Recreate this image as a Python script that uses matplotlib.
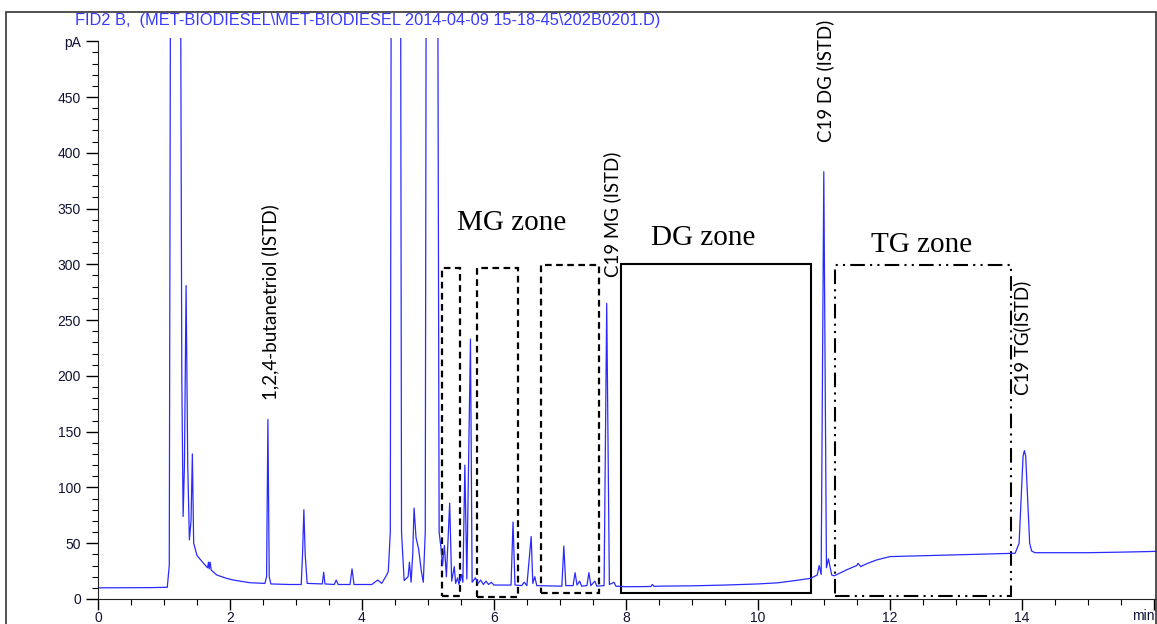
import matplotlib.pyplot as plt
from matplotlib.patches import Rectangle
from matplotlib.ticker import MultipleLocator, FixedLocator

# chromatogram trace, vertices (time in min, signal in pA)
time_min = [0.00, 0.80, 1.05, 1.08, 1.10, 1.16, 1.24, 1.27, 1.29, 1.31, 1.335, 1.36,
            1.385, 1.41, 1.43, 1.45, 1.50, 1.60, 1.66, 1.675, 1.685, 1.70, 1.715,
            1.80, 1.95, 2.05, 2.30, 2.53, 2.555, 2.575, 2.595, 2.62, 2.90, 3.08,
            3.10, 3.12, 3.14, 3.17, 3.40, 3.42, 3.44, 3.58, 3.61, 3.64, 3.82, 3.85,
            3.88, 4.15, 4.24, 4.30, 4.38, 4.40, 4.43, 4.45, 4.52, 4.58, 4.60, 4.64,
            4.70, 4.72, 4.745, 4.77, 4.79, 4.82, 4.86, 4.90, 4.93, 4.96, 4.98, 5.06,
            5.14, 5.17, 5.20, 5.22, 5.25, 5.28, 5.33, 5.36, 5.40, 5.42, 5.45, 5.47,
            5.51, 5.53, 5.56, 5.59, 5.645, 5.67, 5.72, 5.76, 5.80, 5.84, 5.88, 5.92,
            5.96, 6.00, 6.26, 6.29, 6.32, 6.42, 6.46, 6.50, 6.565, 6.59, 6.62, 6.65,
            7.03, 7.06, 7.09, 7.20, 7.23, 7.26, 7.30, 7.33, 7.41, 7.44, 7.47, 7.53,
            7.56, 7.67, 7.71, 7.75, 7.82, 7.85, 8.00, 8.38, 8.40, 8.43, 8.50, 9.00,
            9.50, 10.00, 10.30, 10.50, 10.80, 10.90, 10.93, 10.96, 11.00, 11.04,
            11.07, 11.12, 11.16, 11.34, 11.50, 11.52, 11.56, 11.64, 11.80, 12.00,
            12.86, 13.50, 13.90, 13.96, 13.99, 14.02, 14.04, 14.06, 14.09, 14.12,
            14.15, 14.20, 15.00, 15.50, 16.05]
signal_pa = [10.0, 10.2, 10.5, 30, 600, 1500, 800, 200, 74, 120, 281, 120,
             53, 70, 130, 50, 39, 32, 28, 33, 27, 33, 26,
             21.5, 18.5, 17, 14.6, 14, 20, 161, 20, 13.5, 13, 13,
             40, 80, 40, 14, 13.5, 24, 13.5, 13, 17, 13, 13, 27,
             13, 13, 17, 14, 22, 25, 60, 800, 2000, 800, 60, 16.5,
             20, 33, 15, 40, 81.5, 55, 44.5, 25, 15, 60, 800, 2000,
             800, 60, 45, 30, 48, 20, 86, 16, 29, 14, 19, 13,
             22, 15, 120, 18, 233, 15, 19, 14, 17, 13, 16, 13,
             15, 12.5, 12.5, 69, 12.5, 12, 15, 12, 56, 14, 20, 12,
             11.5, 47.5, 12, 12, 23.6, 12.5, 16, 11.5, 12, 23.6, 12, 16,
             11.5, 12, 265, 13, 15, 11.5, 11, 11.2, 13, 11.3, 11.5, 11.8,
             12.5, 13.5, 14.5, 16, 18.5, 21.5, 30, 22, 383, 28,
             36, 21.5, 20.8, 26, 30, 32, 29, 31.4, 35, 38,
             39.4, 40.5, 41, 50, 90, 128, 133, 128, 90, 50,
             43, 41.5, 41.5, 42, 42.7]

y_ticks = [0, 50, 100, 150, 200, 250, 300, 350, 400, 450, 500]
y_labels = ['0', '50', '100', '150', '200', '250', '300', '350', '400', '450', 'pA']
x_ticks = [0, 2, 4, 6, 8, 10, 12, 14, 16]
x_labels = ['0', '2', '4', '6', '8', '10', '12', '14', '']

title = 'FID2 B,  (MET-BIODIESEL\\MET-BIODIESEL 2014-04-09 15-18-45\\202B0201.D)'

fig = plt.figure(figsize=(11.57, 6.24), dpi=100)
ax = fig.add_axes([98 / 1157, 25 / 624, 1 - 98 / 1157, 561 / 624])

ax.plot(time_min, signal_pa, color='#2a2aff', lw=0.9)

ax.set_xlim(0, 16.05)
ax.set_ylim(0, 502.9)

# axes in the instrument style
for s in ['top', 'right']:
    ax.spines[s].set_visible(False)
ax.spines['left'].set_bounds(0, 500)
ax.spines['left'].set_color('#222222')
ax.spines['bottom'].set_color('#222222')
ax.yaxis.set_major_locator(FixedLocator(y_ticks))
ax.set_yticklabels(y_labels)
ax.yaxis.set_minor_locator(FixedLocator(list(range(0, 501, 10))))
ax.xaxis.set_major_locator(FixedLocator(x_ticks))
ax.set_xticklabels(x_labels)
ax.xaxis.set_minor_locator(MultipleLocator(0.5))
ax.tick_params(axis='y', which='major', length=8.4, width=1, pad=4)
ax.tick_params(axis='y', which='minor', length=4.1, width=0.8)
ax.tick_params(axis='x', which='major', length=8, width=1, pad=1)
ax.tick_params(axis='x', which='minor', length=4, width=0.8)
for lab in ax.get_xticklabels() + ax.get_yticklabels():
    lab.set_fontfamily('Liberation Sans')
    lab.set_fontsize(10)
    lab.set_color('#111133')
ax.text(16.02, -9, 'min', fontsize=10, family='Liberation Sans', color='#111133',
        ha='right', va='top', clip_on=False)

# zone boxes
dash = (0, (3, 2))
ax.add_patch(Rectangle((5.21, 3), 0.27, 294, fill=False, ec='k', lw=1.6, ls=dash, clip_on=False))
ax.add_patch(Rectangle((5.75, 2), 0.62, 295, fill=False, ec='k', lw=1.6, ls=dash, clip_on=False))
ax.add_patch(Rectangle((6.72, 5), 0.87, 294, fill=False, ec='k', lw=1.6, ls=dash, clip_on=False))
ax.add_patch(Rectangle((7.92, 5), 2.88, 295, fill=False, ec='k', lw=1.5, clip_on=False))
ax.add_patch(Rectangle((11.17, 3), 2.66, 296, fill=False, ec='k', lw=1.5,
                       ls=(0, (7, 2.5, 1, 2.5, 1, 2.5)), clip_on=False))

serif = 'Liberation Serif'
ax.text(6.27, 331, 'MG zone', fontsize=21, family=serif, ha='center', va='baseline')
ax.text(9.17, 317, 'DG zone', fontsize=21, family=serif, ha='center', va='baseline')
ax.text(12.48, 311, 'TG zone', fontsize=21, family=serif, ha='center', va='baseline')

sans = 'Lato'
ax.text(2.61, 178, '1,2,4-butanetriol (ISTD)', rotation=90, fontsize=13.6, family=sans,
        ha='center', va='bottom')
ax.text(7.79, 289, 'C19 MG (ISTD)', rotation=90, fontsize=13.4, family=sans,
        ha='center', va='bottom')
ax.text(11.02, 410, 'C19 DG (ISTD)', rotation=90, fontsize=13.4, family=sans,
        ha='center', va='bottom', clip_on=False)
ax.text(14.0, 183, 'C19 TG(ISTD)', rotation=90, fontsize=13.4, family=sans,
        ha='center', va='bottom')

fig.text(75 / 1157, 1 - 20 / 624, title, color='#3a3aff', fontsize=11.8,
         family='Liberation Sans', ha='left', va='center')

# outer frame
fig.patches.append(Rectangle((6 / 1157, -0.05), 1150 / 1157, 1.05 - 12 / 624,
                             transform=fig.transFigure, fill=False, ec='#333333', lw=1.2))

fig.savefig('out.png', dpi=100)
